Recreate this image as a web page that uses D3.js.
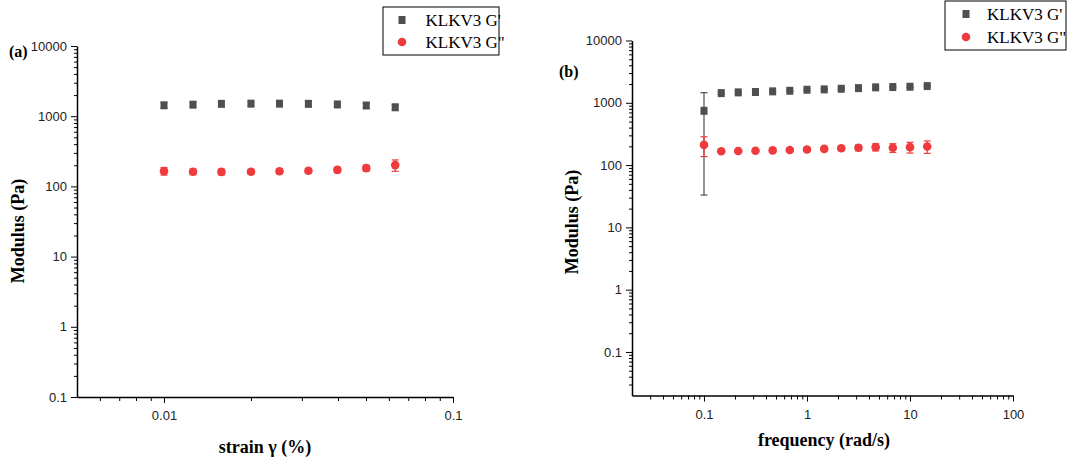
<!DOCTYPE html>
<html>
<head>
<meta charset="utf-8">
<script src="https://cdn.jsdelivr.net/npm/d3@7"></script>
<style>
  body { margin: 0; background: #fff; }
  svg { display: block; }
  .tick text { font-family: "Liberation Sans", Arial, sans-serif; font-size: 13px; fill: #222; }
  .domain, .tick line { stroke: #000; }
</style>
</head>
<body>
<svg id="chart" width="1070" height="463"></svg>
<script>
// ---- data ----
// (a) strain sweep
var strain = [0.01, 0.0126, 0.0158, 0.02, 0.0251, 0.0316, 0.0398, 0.0501, 0.0631];
var strainGp = [1430, 1460, 1500, 1510, 1510, 1500, 1470, 1420, 1340];
var strainGpErr = [120, 110, 100, 100, 100, 100, 100, 110, 110];
var strainGpp = [165, 162, 161, 162, 164, 167, 172, 182, 201];
var strainGppErr = [20, 15, 15, 12, 12, 12, 15, 18, 37];

// (b) frequency sweep
var freq = [0.1, 0.147, 0.215, 0.316, 0.464, 0.681, 1, 1.47, 2.15, 3.16, 4.64, 6.81, 10, 14.7];
var freqGp = [743, 1430, 1470, 1490, 1525, 1560, 1620, 1640, 1680, 1720, 1770, 1790, 1810, 1855];
var freqGpErr = [710, 60, 50, 50, 50, 50, 50, 50, 50, 50, 60, 60, 60, 60];
var freqGpp = [211, 167, 168, 170, 172, 175, 178, 182, 186, 190, 194, 190, 194, 199];
var freqGppErr = [74, 8, 8, 8, 8, 10, 10, 12, 15, 20, 25, 30, 38, 45];

var seriesNames = ["KLKV3 G'", "KLKV3 G\""];
var yMajor = [0.1, 1, 10, 100, 1000, 10000];

var grey = "#4f4f4f", red = "#ef3b3d";

var svg = d3.select("#chart");

// minor ticks 2..9 of every decade inside the domain
function minors(domain) {
  var out = [];
  for (var e = -3; e <= 4; e++) {
    for (var m = 2; m <= 9; m++) {
      var v = m * Math.pow(10, e);
      if (v > domain[0] * 1.0001 && v < domain[1] * 0.9999) out.push(v);
    }
  }
  return out;
}

function fmt(d) { return d3.format("~g")(d); }

function panel(cfg) {
  var x = d3.scaleLog().domain(cfg.xDomain).range(cfg.xRange);
  var y = d3.scaleLog().domain(cfg.yDomain).range(cfg.yRange);
  var g = svg.append("g");

  // axes
  g.append("g").attr("transform", "translate(0," + cfg.yRange[0] + ")")
    .call(d3.axisBottom(x).tickValues(minors(cfg.xDomain)).tickSize(4).tickFormat(""))
    .call(a => a.select(".domain").remove());
  g.append("g").attr("transform", "translate(0," + cfg.yRange[0] + ")")
    .call(d3.axisBottom(x).tickValues(cfg.xMajor).tickSize(6).tickSizeOuter(0).tickPadding(8).tickFormat(fmt))
    .call(a => a.select(".domain").attr("stroke-width", 1.5));

  g.append("g").attr("transform", "translate(" + cfg.xRange[0] + ",0)")
    .call(d3.axisLeft(y).tickValues(minors(cfg.yDomain)).tickSize(3).tickFormat(""))
    .call(a => a.select(".domain").remove());
  g.append("g").attr("transform", "translate(" + cfg.xRange[0] + ",0)")
    .call(d3.axisLeft(y).tickValues(yMajor).tickSize(6).tickSizeOuter(0).tickPadding(4).tickFormat(fmt))
    .call(a => a.select(".domain").attr("stroke-width", 1.5));

  // error bars + markers
  var series = [
    {vals: cfg.gp, err: cfg.gpErr, color: grey, shape: "square"},
    {vals: cfg.gpp, err: cfg.gppErr, color: red, shape: "circle"}
  ];
  series.forEach(function(s) {
    var pts = cfg.x.map((xv, i) => ({x: xv, y: s.vals[i], e: s.err[i]}));
    var eb = g.append("g").attr("stroke", s.color).attr("stroke-width", 1.2);
    eb.selectAll("line.v").data(pts).join("line")
      .attr("x1", d => x(d.x)).attr("x2", d => x(d.x))
      .attr("y1", d => y(d.y + d.e)).attr("y2", d => y(Math.max(d.y - d.e, 1e-3)));
    eb.selectAll("line.t").data(pts).join("line")
      .attr("x1", d => x(d.x) - 3.5).attr("x2", d => x(d.x) + 3.5)
      .attr("y1", d => y(d.y + d.e)).attr("y2", d => y(d.y + d.e));
    eb.selectAll("line.b").data(pts).join("line")
      .attr("x1", d => x(d.x) - 3.5).attr("x2", d => x(d.x) + 3.5)
      .attr("y1", d => y(d.y - d.e)).attr("y2", d => y(d.y - d.e));
    if (s.shape === "square") {
      g.append("g").selectAll("rect").data(pts).join("rect")
        .attr("x", d => x(d.x) - 3.5).attr("y", d => y(d.y) - 4)
        .attr("width", 7).attr("height", 8).attr("fill", s.color);
    } else {
      g.append("g").selectAll("circle").data(pts).join("circle")
        .attr("cx", d => x(d.x)).attr("cy", d => y(d.y))
        .attr("r", 4.3).attr("fill", s.color);
    }
  });

  // titles
  g.append("text")
    .attr("transform", "translate(" + cfg.yTitle[0] + "," + cfg.yTitle[1] + ") rotate(-90)")
    .attr("text-anchor", "middle")
    .style("font-family", "'Liberation Serif', 'Times New Roman', serif")
    .style("font-weight", "bold").style("font-size", "18px")
    .text("Modulus (Pa)");
  g.append("text")
    .attr("x", cfg.xTitle[0]).attr("y", cfg.xTitle[1])
    .attr("text-anchor", "middle")
    .style("font-family", "'Liberation Serif', 'Times New Roman', serif")
    .style("font-weight", "bold").style("font-size", "18px")
    .text(cfg.xLabel);
  g.append("text")
    .attr("x", cfg.tag[0]).attr("y", cfg.tag[1])
    .style("font-family", "'Liberation Serif', 'Times New Roman', serif")
    .style("font-weight", "bold").style("font-size", "16px")
    .text(cfg.tagText);

  // legend
  var L = cfg.legend;
  var lg = g.append("g").attr("transform", "translate(" + L.x + "," + L.y + ")");
  lg.append("rect").attr("width", L.w).attr("height", L.h)
    .attr("fill", "#fff").attr("stroke", "#000").attr("stroke-width", 1);
  seriesNames.forEach(function(name, i) {
    var cy = L.row0 + i * L.step;
    if (i === 0) {
      lg.append("rect").attr("x", L.mx - 3.5).attr("y", cy - 4).attr("width", 7).attr("height", 8).attr("fill", grey);
    } else {
      lg.append("circle").attr("cx", L.mx).attr("cy", cy).attr("r", 4.3).attr("fill", red);
    }
    lg.append("text").attr("x", L.tx).attr("y", cy + 6)
      .style("font-family", "'Liberation Serif', 'Times New Roman', serif")
      .style("font-size", "17px").attr("fill", "#000")
      .text(name);
  });
}

panel({
  x: strain, gp: strainGp, gpErr: strainGpErr, gpp: strainGpp, gppErr: strainGppErr,
  xDomain: [0.005, 0.1], xRange: [77, 453], xMajor: [0.01, 0.1],
  yDomain: [0.1, 10000], yRange: [397, 46],
  yTitle: [24, 231], xTitle: [265, 453], xLabel: "strain \u03b3 (%)",
  tag: [9, 57], tagText: "(a)",
  legend: {x: 383, y: 7, w: 116, h: 48, mx: 19, tx: 42.5, row0: 13, step: 22}
});

panel({
  x: freq, gp: freqGp, gpErr: freqGpErr, gpp: freqGpp, gppErr: freqGppErr,
  xDomain: [0.02, 100], xRange: [632, 1013], xMajor: [0.1, 1, 10, 100],
  yDomain: [0.02, 10000], yRange: [395.5, 40.5],
  yTitle: [578, 222], xTitle: [824, 446], xLabel: "frequency (rad/s)",
  tag: [559, 77], tagText: "(b)",
  legend: {x: 945, y: 1, w: 121, h: 49, mx: 21, tx: 42, row0: 13, step: 23}
});
</script>
</body>
</html>
